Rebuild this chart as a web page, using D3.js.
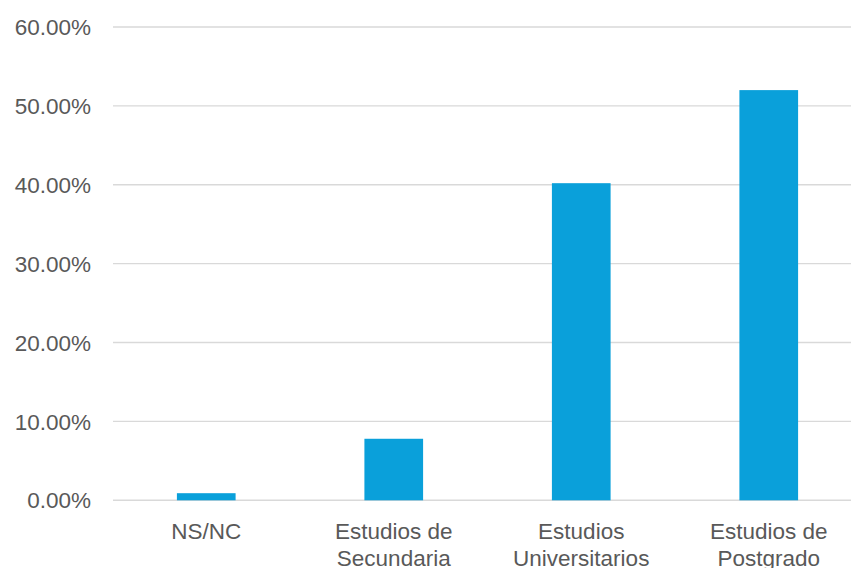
<!DOCTYPE html>
<html>
<head>
<meta charset="utf-8">
<script src="https://cdn.jsdelivr.net/npm/d3@7"></script>
<style>
  html, body { margin: 0; padding: 0; background: #ffffff; }
  svg { display: block; }
  text { font-family: "Liberation Sans", Arial, sans-serif; fill: #595959; }
</style>
</head>
<body>
<svg id="chart" width="851" height="568"></svg>
<script>
// Education level categories (each label split into display lines)
const categories = ["NS/NC", "Estudios de Secundaria", "Estudios Universitarios", "Estudios de Postgrado"];
const categoryLines = [["NS/NC"], ["Estudios de", "Secundaria"], ["Estudios", "Universitarios"], ["Estudios de", "Postgrado"]];
// Share of respondents, in percent
const values = [0.9, 7.8, 40.2, 52.0];
// Y axis ticks
const yTicks = [0, 10, 20, 30, 40, 50, 60];

const svg = d3.select("#chart");
const W = 851, H = 568;

const x = d3.scaleBand()
  .domain(categories)
  .range([112.5, 862.5])
  .paddingInner(0.687)
  .paddingOuter(0.3435);

const y = d3.scaleLinear()
  .domain([0, 60])
  .range([500.3, 27]);

// Horizontal gridlines (including the baseline)
svg.append("g")
  .selectAll("line")
  .data(yTicks)
  .join("line")
  .attr("x1", 113)
  .attr("x2", W)
  .attr("y1", d => y(d))
  .attr("y2", d => y(d))
  .attr("stroke", "#d9d9d9")
  .attr("stroke-width", 1.4);

// Y tick labels
const fmt = d => d3.format(".2f")(d) + "%";
svg.append("g")
  .selectAll("text")
  .data(yTicks)
  .join("text")
  .attr("x", 91)
  .attr("y", d => y(d))
  .attr("dy", "0.36em")
  .attr("text-anchor", "end")
  .style("font-size", "22.5px")
  .text(fmt);

// Bars
svg.append("g")
  .selectAll("rect")
  .data(values)
  .join("rect")
  .attr("x", (d, i) => x(categories[i]))
  .attr("width", x.bandwidth())
  .attr("y", d => y(d))
  .attr("height", d => y(0) - y(d))
  .attr("fill", "#0aa0da");

// Category labels
const lab = svg.append("g")
  .selectAll("text")
  .data(categories)
  .join("text")
  .attr("text-anchor", "middle")
  .style("font-size", "22.5px");
lab.each(function(c, i) {
  const cx = x(c) + x.bandwidth() / 2;
  d3.select(this).selectAll("tspan")
    .data(categoryLines[i])
    .join("tspan")
    .attr("x", cx)
    .attr("y", (t, j) => 538.5 + j * 27.5)
    .text(t => t);
});
</script>
</body>
</html>
